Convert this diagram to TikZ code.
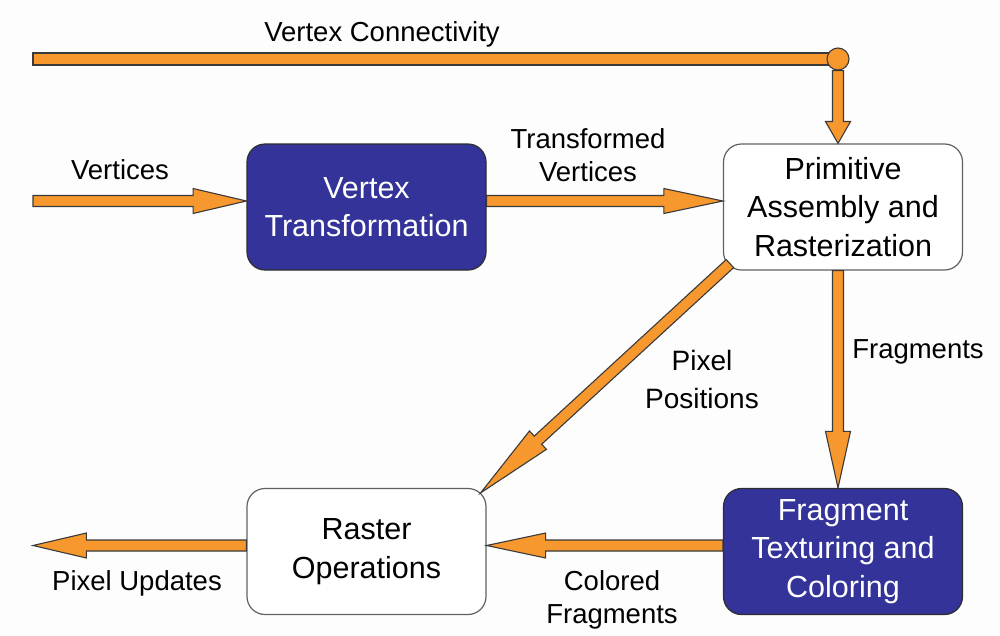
\documentclass[tikz,border=0pt]{standalone}
\usepackage{fontspec}
\setmainfont{Liberation Sans}
\usetikzlibrary{calc}
\definecolor{arr}{HTML}{F7982F}
\definecolor{outl}{HTML}{3A3A3A}
\definecolor{boxblue}{HTML}{333399}
\definecolor{bgc}{HTML}{FCFDFC}
\tikzset{
  arrowbody/.style={draw=outl, fill=arr, line width=1.1pt, line join=miter},
  fat/.style={to path={
    ($(\tikztostart)!5.5pt!90:(\tikztotarget)$) --
    ($(\tikztotarget)!#1!(\tikztostart)!5.5pt!-90:(\tikztostart)$) --
    ($(\tikztotarget)!#1!(\tikztostart)!12.5pt!-90:(\tikztostart)$) --
    (\tikztotarget) --
    ($(\tikztotarget)!#1!(\tikztostart)!12.5pt!90:(\tikztostart)$) --
    ($(\tikztotarget)!#1!(\tikztostart)!5.5pt!90:(\tikztostart)$) --
    ($(\tikztostart)!5.5pt!-90:(\tikztotarget)$) -- cycle}},
  fat/.default=0.25,
  stagebox/.style={rectangle, rounded corners=18pt, minimum width=239pt, minimum height=126pt,
    inner sep=0pt, align=center, line width=1.2pt, font=\fontsize{30.5}{38.5}\selectfont},
  darkbox/.style={stagebox, draw=outl!80!black, fill=boxblue, text=white},
  lightbox/.style={stagebox, draw=outl!80, fill=white, text=black},
  lbl/.style={align=center, inner sep=0pt, text=black, font=\fontsize{27.5}{33}\selectfont},
}
\begin{document}
\begin{tikzpicture}[x=1pt,y=-1pt]
\fill[bgc] (0,0) rectangle (1000,635);
\useasboundingbox (0,0) rectangle (1000,635);

% boxes
\node[darkbox]  (vt)   at (366.5,207)   {Vertex\\Transformation};
\node[lightbox] (prim) at (843,207)     {Primitive\\Assembly and\\Rasterization};
\node[lightbox] (rast) at (366.5,551.5) {Raster\\Operations};
\node[darkbox]  (frag) at (843,551.5)   {Fragment\\Texturing and\\Coloring};

% free ends
\coordinate (vcstart) at (33,59);
\coordinate (jc) at (838,59);
\coordinate (vin) at (33,201);
\coordinate (pout) at (33,545.5);

% vertex connectivity line
\path[arrowbody] ($(vcstart)+(0,-6)$) rectangle ($(jc)+(0,6)$);
\node[circle, draw=outl, fill=arr, line width=1.1pt, minimum size=22pt, inner sep=0pt] (junc) at (jc) {};
\path[arrowbody] (junc.south) to[fat=0.3] (junc.south |- prim.north);

% arrows
\path[arrowbody] (vin) to[fat] ($(vt.west)+(0,-6)$);
\path[arrowbody] ($(vt.east)+(0,-6)$) to[fat] ($(prim.west)+(0,-6)$);
\path[arrowbody] ($(prim.south)+(-5,0)$) to[fat=0.26] ($(frag.north)+(-5,0)$);
\path[arrowbody] ($(prim.south west)+(7,-7)$) to[fat=0.23] ($(rast.north east)+(-6,5)$);
\path[arrowbody] ($(frag.west)+(0,-6)$) to[fat] ($(rast.east)+(0,-6)$);
\path[arrowbody] ($(rast.west)+(0,-6)$) to[fat] (pout);

% labels
\node[lbl] (lvc) at (382,34) {Vertex Connectivity};
\node[lbl] (lv) at (120,170) {Vertices};
\node[lbl] (ltv) at (588,155) {Transformed\\Vertices};
\node[lbl] (lf) at (918,352) {Fragments};
\node[lbl, font=\fontsize{28}{38}\selectfont] (lpp) at (702,379) {Pixel\\Positions};
\node[lbl] (lcf) at (612,600) {Colored\\Fragments};
\node[lbl] (lpu) at (137,583) {Pixel Updates};
\end{tikzpicture}
\end{document}
